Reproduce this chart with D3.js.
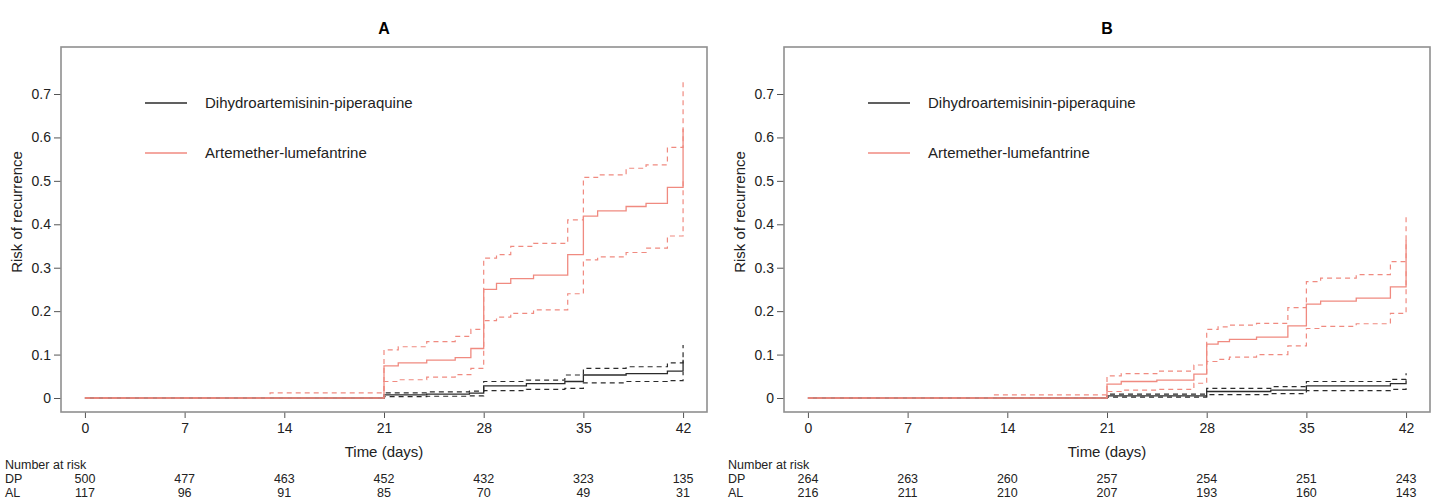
<!DOCTYPE html>
<html>
<head>
<meta charset="utf-8">
<script src="https://cdn.jsdelivr.net/npm/d3@7"></script>
<style>
  body { margin: 0; background: #fff; }
  svg { font-family: "Liberation Sans", Arial, sans-serif; }
</style>
</head>
<body>
<div id="chart"></div>
<script>
'use strict';

// days shown on the x axis / number-at-risk columns
var dayTicks = [0, 7, 14, 21, 28, 35, 42];
var riskTicks = [0, 0.1, 0.2, 0.3, 0.4, 0.5, 0.6, 0.7];
var seriesNames = ['Dihydroartemisinin-piperaquine', 'Artemether-lumefantrine'];
var riskRows = ['DP', 'AL'];

// panel A - artemether-lumefantrine
var aAlTime = [0, 13, 21, 22, 24, 26, 27.1, 28, 28.9, 29.9, 31.5, 33.9, 35, 36, 38, 39.4, 40.9, 42];
var aAlEst  = [0, 0, 0.074, 0.081, 0.087, 0.093, 0.114, 0.25, 0.264, 0.275, 0.283, 0.33, 0.419, 0.431, 0.441, 0.448, 0.485, 0.62];
var aAlUp   = [0, 0.012, 0.111, 0.118, 0.13, 0.142, 0.158, 0.322, 0.33, 0.349, 0.356, 0.41, 0.508, 0.514, 0.529, 0.537, 0.577, 0.73];
var aAlLow  = [0, 0, 0.038, 0.042, 0.048, 0.054, 0.068, 0.178, 0.186, 0.195, 0.203, 0.24, 0.318, 0.325, 0.335, 0.345, 0.373, 0.50];
// panel A - dihydroartemisinin-piperaquine
var aDpTime = [0, 21, 24, 27, 28, 31, 33.7, 35, 38, 40.9, 42];
var aDpEst  = [0, 0.007, 0.009, 0.011, 0.028, 0.033, 0.038, 0.053, 0.056, 0.062, 0.088];
var aDpUp   = [0, 0.012, 0.014, 0.016, 0.038, 0.041, 0.053, 0.068, 0.072, 0.081, 0.122];
var aDpLow  = [0, 0.003, 0.004, 0.005, 0.017, 0.02, 0.022, 0.035, 0.038, 0.04, 0.06];
var aRiskDP = [500, 477, 463, 452, 432, 323, 135];
var aRiskAL = [117, 96, 91, 85, 70, 49, 31];

// panel B - artemether-lumefantrine
var bAlTime = [0, 13, 21, 22, 24.5, 27.1, 28, 28.8, 29.6, 31.5, 33.7, 35, 36, 38.5, 40.9, 42];
var bAlEst  = [0, 0, 0.032, 0.038, 0.041, 0.055, 0.124, 0.13, 0.135, 0.14, 0.166, 0.216, 0.223, 0.23, 0.256, 0.364];
var bAlUp   = [0, 0.007, 0.051, 0.056, 0.062, 0.076, 0.158, 0.164, 0.168, 0.172, 0.208, 0.268, 0.276, 0.284, 0.314, 0.42];
var bAlLow  = [0, 0, 0.015, 0.018, 0.02, 0.034, 0.084, 0.089, 0.094, 0.1, 0.12, 0.16, 0.165, 0.171, 0.195, 0.3];
// panel B - dihydroartemisinin-piperaquine
var bDpTime = [0, 21, 28, 32.5, 35, 40.9, 42];
var bDpEst  = [0, 0.005, 0.015, 0.018, 0.028, 0.033, 0.041];
var bDpUp   = [0, 0.009, 0.022, 0.026, 0.038, 0.043, 0.057];
var bDpLow  = [0, 0.002, 0.008, 0.01, 0.017, 0.02, 0.025];
var bRiskDP = [264, 263, 260, 257, 254, 251, 243];
var bRiskAL = [216, 211, 210, 207, 193, 160, 143];

var W = 1434, H = 501;
var colDP = '#2b2b2b';
var colAL = '#f08a80';

var svg = d3.select('#chart').append('svg')
    .attr('width', W)
    .attr('height', H);

function drawPanel(offsetX, title, groups, riskDP, riskAL) {
    var box = { left: 61, right: 707, top: 47, bottom: 412 };
    var g = svg.append('g').attr('transform', 'translate(' + offsetX + ',0)');

    var x = d3.scaleLinear().domain([-1.68, 43.68]).range([box.left, box.right]);
    var y = d3.scaleLinear().domain([0, 0.7]).range([398, 94]);

    g.append('text')
        .attr('x', (box.left + box.right) / 2)
        .attr('y', 34)
        .attr('text-anchor', 'middle')
        .style('font-size', '16px')
        .style('font-weight', 'bold')
        .text(title);

    // x axis
    var xa = g.append('g')
        .attr('transform', 'translate(0,' + box.bottom + ')')
        .call(d3.axisBottom(x).tickValues(dayTicks).tickSize(6).tickPadding(5));
    xa.select('.domain').remove();
    xa.selectAll('line').attr('stroke', '#555');
    xa.selectAll('text').style('font-size', '14px').attr('fill', '#222');

    // y axis
    var ya = g.append('g')
        .attr('transform', 'translate(' + box.left + ',0)')
        .call(d3.axisLeft(y).tickValues(riskTicks).tickSize(7).tickPadding(3)
            .tickFormat(function (d) { return d === 0 ? '0' : d3.format('.1f')(d); }));
    ya.select('.domain').remove();
    ya.selectAll('line').attr('stroke', '#555');
    ya.selectAll('text').style('font-size', '14px').attr('fill', '#222');

    g.append('text')
        .attr('transform', 'translate(22,212) rotate(-90)')
        .attr('text-anchor', 'middle')
        .style('font-size', '15px')
        .attr('fill', '#222')
        .text('Risk of recurrence');

    g.append('text')
        .attr('x', x(21))
        .attr('y', 457)
        .attr('text-anchor', 'middle')
        .style('font-size', '15px')
        .attr('fill', '#222')
        .text('Time (days)');

    // curves
    var line = d3.line()
        .x(function (d) { return x(d[0]); })
        .y(function (d) { return y(d[1]); })
        .curve(d3.curveStepAfter);

    groups.forEach(function (s) {
        [[s.up, true], [s.low, true], [s.est, false]].forEach(function (p) {
            var pts = s.time.map(function (t, i) { return [t, p[0][i]]; });
            g.append('path')
                .datum(pts)
                .attr('d', line)
                .attr('fill', 'none')
                .attr('stroke', s.color)
                .attr('stroke-width', p[1] ? 1.2 : 1.3)
                .attr('stroke-dasharray', p[1] ? '5,4' : null);
        });
    });

    // box
    g.append('rect')
        .attr('x', box.left)
        .attr('y', box.top)
        .attr('width', box.right - box.left)
        .attr('height', box.bottom - box.top)
        .attr('fill', 'none')
        .attr('stroke', '#8f8f8f')
        .attr('stroke-width', 1.6);

    // legend
    seriesNames.forEach(function (name, i) {
        var ly = 103 + i * 50;
        g.append('line')
            .attr('x1', 145).attr('x2', 187)
            .attr('y1', ly).attr('y2', ly)
            .attr('stroke', groups[i].color)
            .attr('stroke-width', 1.3);
        g.append('text')
            .attr('x', 205)
            .attr('y', ly + 5)
            .style('font-size', '15px')
            .attr('fill', '#222')
            .text(name);
    });

    // number at risk
    g.append('text')
        .attr('x', 5 + (offsetX ? 14 : 0) - (offsetX ? 14 : 0))
        .attr('y', 469)
        .style('font-size', '12.5px')
        .attr('fill', '#222')
        .text('Number at risk');
    [riskDP, riskAL].forEach(function (row, r) {
        var ry = 483 + r * 14;
        g.append('text')
            .attr('x', 5)
            .attr('y', ry)
            .style('font-size', '12.5px')
            .attr('fill', '#222')
            .text(riskRows[r]);
        g.selectAll(null)
            .data(row)
            .enter().append('text')
            .attr('x', function (d, i) { return x(dayTicks[i]); })
            .attr('y', ry)
            .attr('text-anchor', 'middle')
            .style('font-size', '12.5px')
            .attr('fill', '#222')
            .text(function (d) { return d; });
    });
}

drawPanel(0, 'A', [
    { time: aDpTime, est: aDpEst, up: aDpUp, low: aDpLow, color: colDP },
    { time: aAlTime, est: aAlEst, up: aAlUp, low: aAlLow, color: colAL }
], aRiskDP, aRiskAL);

drawPanel(723, 'B', [
    { time: bDpTime, est: bDpEst, up: bDpUp, low: bDpLow, color: colDP },
    { time: bAlTime, est: bAlEst, up: bAlUp, low: bAlLow, color: colAL }
], bRiskDP, bRiskAL);
</script>
</body>
</html>
